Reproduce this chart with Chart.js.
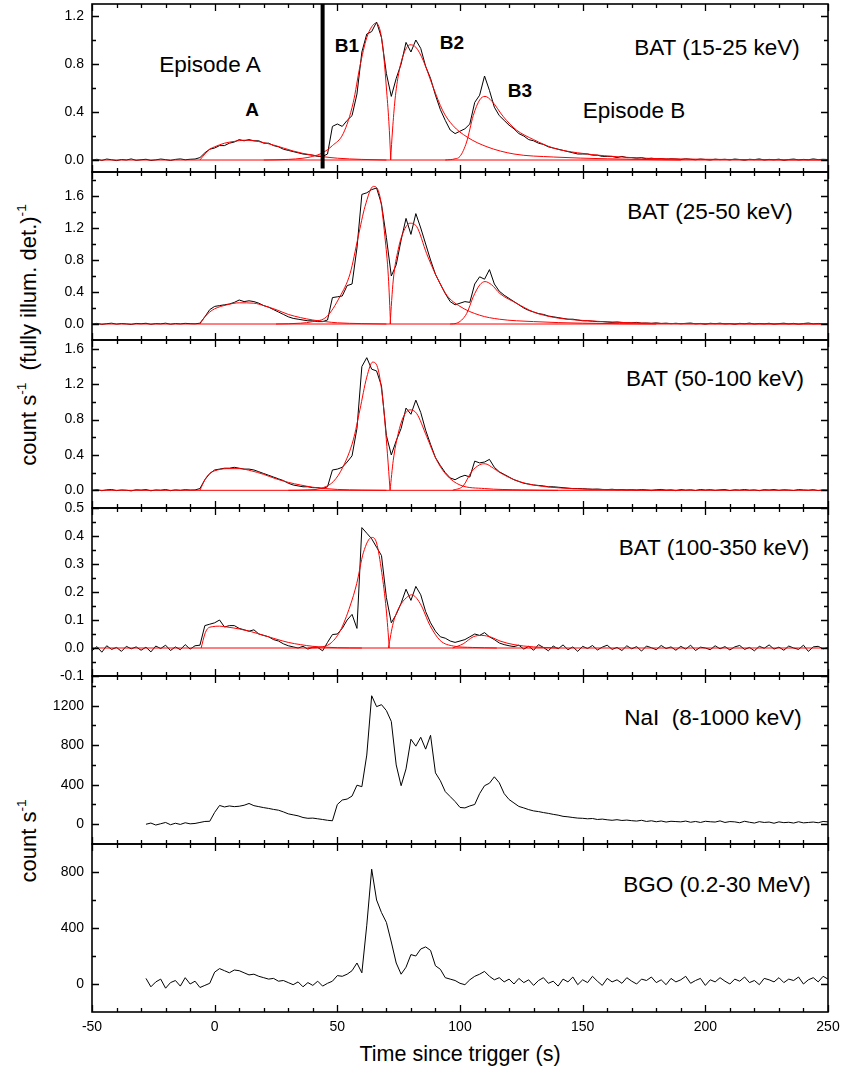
<!DOCTYPE html>
<html>
<head>
<meta charset="utf-8">
<script src="https://cdn.jsdelivr.net/npm/chart.js@4.4.0/dist/chart.umd.min.js"></script>
<style>
  html, body { margin: 0; padding: 0; background: #fff; }
  #wrap { position: relative; width: 841px; height: 1074px; overflow: hidden;
          font-family: "Liberation Sans", Arial, sans-serif; color: #000; }
  #wrap canvas { position: absolute; left: 0; }
  .lbl { position: absolute; white-space: pre; line-height: 1; font-size: 22.5px;
         transform: translate(-50%, -50%); }
  .bold { font-weight: bold; font-size: 19px; }
  .ytitle { position: absolute; white-space: pre; line-height: 1; font-size: 22px;
            transform: translate(-50%, -50%) rotate(-90deg); }
  sup { font-size: 0.62em; line-height: 0; vertical-align: 0.72em; }
</style>
</head>
<body>
<div id="wrap">
  <div class="lbl" style="left:210px; top:65px;">Episode A</div>
  <div class="lbl bold" style="left:252px; top:109px;">A</div>
  <div class="lbl bold" style="left:347px; top:45px;">B1</div>
  <div class="lbl bold" style="left:452px; top:42px;">B2</div>
  <div class="lbl bold" style="left:520px; top:90px;">B3</div>
  <div class="lbl" style="left:634px; top:111px;">Episode B</div>
  <div class="lbl" style="left:717px; top:48px;">BAT (15-25 keV)</div>
  <div class="lbl" style="left:710px; top:212px;">BAT (25-50 keV)</div>
  <div class="lbl" style="left:715px; top:379px;">BAT (50-100 keV)</div>
  <div class="lbl" style="left:714px; top:548px;">BAT (100-350 keV)</div>
  <div class="lbl" style="left:713px; top:718px;">NaI  (8-1000 keV)</div>
  <div class="lbl" style="left:717px; top:885px;">BGO (0.2-30 MeV)</div>
  <div class="ytitle" style="left:29px; top:335px;">count s<sup>-1</sup>  (fully illum. det.)<sup>-1</sup></div>
  <div class="ytitle" style="left:29px; top:841px;">count s<sup>-1</sup></div>
  <div class="lbl" style="left:460px; top:1055px; font-size:21.5px;">Time since trigger (s)</div>
</div>
<script>
// bin grid of the light curves (s)
const BIN = 2;
const BAT_START = -50;
const GBM_START = -28;

// x ticks (shared by every panel)
const xMajor = [-50, 0, 50, 100, 150, 200, 250];
const xMinor = [-40, -30, -20, -10, 10, 20, 30, 40, 60, 70, 80, 90, 110, 120, 130, 140,
  160, 170, 180, 190, 210, 220, 230, 240];

// y ticks per panel
const p1Major = [0, 0.4, 0.8, 1.2], p1Minor = [0.2, 0.6, 1.0];
const p2Major = [0, 0.4, 0.8, 1.2, 1.6], p2Minor = [0.2, 0.6, 1.0, 1.4, 1.8];
const p3Major = [0, 0.4, 0.8, 1.2, 1.6], p3Minor = [0.2, 0.6, 1.0, 1.4];
const p4Major = [-0.1, 0, 0.1, 0.2, 0.3, 0.4, 0.5], p4Minor = [-0.05, 0.05, 0.15, 0.25, 0.35, 0.45];
const p5Major = [0, 400, 800, 1200], p5Minor = [200, 600, 1000, 1400];
const p6Major = [0, 400, 800], p6Minor = [200, 600];

// BAT 15-25 keV, from -50 s every 2 s
const bat15 = [
  0.000, 0.006, -0.004, 0.008, 0.002, -0.005, 0.004, 0.000, 0.009, -0.003,
  0.002, 0.006, -0.004, 0.001, 0.008, 0.003, -0.004, 0.005, 0.009, 0.002,
  0.006, 0.008, 0.02, 0.06, 0.09, 0.10, 0.12, 0.12, 0.14, 0.15,
  0.17, 0.16, 0.17, 0.16, 0.16, 0.14, 0.14, 0.12, 0.11, 0.09,
  0.08, 0.07, 0.06, 0.05, 0.045, 0.04, 0.03, 0.03, 0.05, 0.28,
  0.30, 0.28, 0.33, 0.37, 0.55, 0.90, 1.05, 1.07, 1.15, 1.02,
  0.72, 0.53, 0.68, 0.80, 0.98, 0.90, 1.00, 0.93, 0.78, 0.68,
  0.54, 0.42, 0.33, 0.25, 0.22, 0.24, 0.26, 0.30, 0.48, 0.54,
  0.70, 0.58, 0.44, 0.37, 0.33, 0.29, 0.26, 0.22, 0.20, 0.17,
  0.16, 0.14, 0.13, 0.11, 0.10, 0.09, 0.08, 0.07, 0.06, 0.05,
  0.05, 0.05, 0.04, 0.04, 0.03, 0.03, 0.03, 0.02, 0.03, 0.02,
  0.02, 0.015, 0.02, 0.01, 0.015, 0.01, 0.012, 0.006, 0.01, 0.008,
  0.004, 0.01, 0.006, 0.002, 0.008, 0.004, 0.000, 0.007, 0.003, 0.006,
  0.001, 0.008, 0.004, -0.002, 0.006, 0.003, 0.009, 0.000, 0.005, 0.002,
  0.007, -0.003, 0.004, 0.008, 0.001, 0.005, 0.002, 0.009, 0.003, 0.006,
  0.004
];

// BAT 25-50 keV
const bat25 = [
  0.000, 0.008, -0.005, 0.004, 0.010, -0.002, 0.006, 0.001, -0.006, 0.007,
  0.003, 0.009, -0.004, 0.005, 0.002, 0.010, -0.003, 0.006, 0.001, 0.008,
  0.004, 0.002, 0.01, 0.09, 0.18, 0.22, 0.23, 0.24, 0.25, 0.27,
  0.30, 0.28, 0.29, 0.28, 0.26, 0.23, 0.21, 0.18, 0.15, 0.12,
  0.09, 0.07, 0.06, 0.05, 0.04, 0.04, 0.03, 0.03, 0.05, 0.33,
  0.34, 0.35, 0.48, 0.50, 0.95, 1.62, 1.64, 1.68, 1.70, 1.50,
  1.08, 0.60, 0.74, 1.05, 1.32, 1.12, 1.38, 1.20, 1.00, 0.80,
  0.62, 0.50, 0.38, 0.28, 0.24, 0.26, 0.28, 0.27, 0.50, 0.59,
  0.56, 0.68, 0.50, 0.41, 0.36, 0.32, 0.28, 0.24, 0.20, 0.17,
  0.15, 0.13, 0.12, 0.10, 0.09, 0.08, 0.07, 0.06, 0.06, 0.05,
  0.04, 0.04, 0.035, 0.03, 0.03, 0.025, 0.02, 0.025, 0.02, 0.015,
  0.015, 0.02, 0.01, 0.012, 0.008, 0.014, 0.006, 0.01, 0.004, 0.009,
  0.003, 0.008, 0.012, 0.002, 0.007, -0.003, 0.009, 0.004, 0.010, 0.001,
  0.006, -0.004, 0.008, 0.003, 0.011, 0.000, 0.007, 0.002, 0.009, -0.002,
  0.005, 0.010, 0.001, 0.008, -0.003, 0.006, 0.012, 0.002, 0.007, 0.004,
  0.006
];

// BAT 50-100 keV
const bat50 = [
  0.000, 0.007, -0.004, 0.005, 0.009, -0.003, 0.004, 0.001, -0.006, 0.006,
  0.002, 0.008, -0.005, 0.004, 0.001, 0.009, -0.004, 0.005, 0.000, 0.007,
  0.003, 0.004, 0.02, 0.12, 0.19, 0.23, 0.24, 0.25, 0.25, 0.26,
  0.25, 0.24, 0.24, 0.23, 0.21, 0.19, 0.17, 0.15, 0.13, 0.11,
  0.08, 0.06, 0.05, 0.04, 0.04, 0.03, 0.03, 0.02, 0.04, 0.23,
  0.24, 0.26, 0.32, 0.39, 0.70, 1.40, 1.50, 1.37, 1.35, 1.18,
  0.62, 0.40, 0.56, 0.70, 0.93, 0.86, 1.02, 0.88, 0.68, 0.52,
  0.37, 0.28, 0.20, 0.14, 0.12, 0.15, 0.17, 0.15, 0.33, 0.31,
  0.32, 0.35, 0.26, 0.21, 0.18, 0.15, 0.12, 0.10, 0.08, 0.07,
  0.06, 0.055, 0.05, 0.04, 0.04, 0.035, 0.03, 0.025, 0.02, 0.02,
  0.018, 0.015, 0.012, 0.014, 0.01, 0.008, 0.012, 0.006, 0.009, 0.004,
  0.007, 0.002, 0.009, 0.004, -0.003, 0.006, 0.010, 0.001, 0.005, -0.004,
  0.008, 0.002, 0.006, -0.002, 0.009, 0.003, 0.007, 0.000, 0.005, 0.008,
  -0.003, 0.006, 0.002, 0.009, 0.001, 0.005, -0.004, 0.007, 0.003, 0.008,
  0.000, 0.006, 0.003, -0.002, 0.008, 0.004, 0.001, 0.007, -0.003, 0.005,
  0.002
];

// BAT 100-350 keV
const bat100 = [
  -0.010, 0.005, -0.015, 0.008, -0.005, 0.002, -0.012, 0.006, -0.003, 0.004,
  -0.008, 0.003, -0.014, 0.007, -0.002, 0.010, -0.009, 0.004, -0.006, 0.012,
  -0.004, 0.008, 0.01, 0.08, 0.085, 0.09, 0.10, 0.075, 0.08, 0.08,
  0.07, 0.065, 0.06, 0.065, 0.05, 0.045, 0.04, 0.03, 0.025, 0.015,
  0.008, 0.004, 0.000, 0.006, -0.004, 0.003, 0.002, -0.010, 0.02, 0.048,
  0.05, 0.07, 0.10, 0.12, 0.07, 0.43, 0.41, 0.39, 0.36, 0.33,
  0.18, 0.09, 0.12, 0.16, 0.21, 0.17, 0.22, 0.19, 0.13, 0.09,
  0.06, 0.04, 0.035, 0.025, 0.02, 0.025, 0.03, 0.04, 0.05, 0.045,
  0.055, 0.04, 0.03, 0.018, 0.012, 0.008, 0.005, 0.010, -0.004, 0.006,
  -0.008, 0.012, 0.002, -0.010, 0.007, -0.003, 0.011, -0.006, 0.004, -0.012,
  0.006, -0.002, 0.009, -0.007, 0.003, 0.010, -0.005, 0.002, -0.009, 0.008,
  -0.003, 0.005, -0.011, 0.007, 0.001, -0.006, 0.009, -0.002, 0.004, -0.008,
  0.006, -0.004, 0.010, -0.009, 0.003, 0.000, -0.006, 0.008, -0.003, 0.005,
  -0.007, 0.004, 0.009, -0.005, 0.002, -0.010, 0.006, -0.001, 0.011, -0.004,
  0.003, -0.008, 0.007, 0.000, -0.005, 0.010, -0.012, 0.004, 0.006, -0.003,
  0.002
];

// GBM NaI 8-1000 keV, from -28 s every 2 s
const nai = [
  0, 12, -8, 5, 18, -5, 10, -2, 15, 4,
  8, 18, 28, 30, 120, 190, 175, 185, 178, 182,
  192, 210, 188, 178, 168, 160, 150, 142, 125, 105,
  95, 85, 68, 60, 62, 55, 48, 40, 35, 200,
  245, 255, 285, 395, 380, 700, 1300, 1190, 1210, 1150,
  1040, 600, 390, 560, 860, 790, 880, 760, 900, 520,
  440, 330, 280, 230, 170, 165, 185, 200, 310, 390,
  415, 480, 420, 310, 250, 215, 180, 165, 148, 135,
  128, 118, 110, 100, 92, 80, 75, 68, 62, 60,
  55, 58, 48, 52, 45, 40, 46, 38, 42, 36,
  32, 40, 28, 35, 25, 33, 22, 30, 27, 24,
  32, 20, 28, 18, 30, 25, 22, 34, 18, 27,
  24, 15, 30, 20, 12, 26, 18, 22, 10, 24,
  16, 20, 12, 25, 14, 18, 22, 15, 28, 24
];

// GBM BGO 0.2-30 MeV
const bgo = [
  40, -20, 15, 35, -30, 10, 25, -15, 45, 0,
  20, -25, -10, 5, 85, 110, 95, 80, 100, 95,
  80, 65, 70, 55, 45, 35, 40, 20, 25, 10,
  -5, 15, -20, 10, -10, 20, -15, 5, 20, 60,
  55, 70, 95, 150, 80, 420, 820, 600, 510, 440,
  300, 150, 70, 120, 210, 200, 250, 265, 240, 130,
  105, 45, 35, 25, 5, -5, 30, 55, 70, 90,
  55, 30, 45, 15, 35, 0, 40, 10, 30, -10,
  25, 45, 5, 20, -15, 35, 15, 50, -5, 30,
  10, 55, 20, -10, 40, 15, 30, 5, 45, 20,
  0, 35, 25, 50, 10, 30, -5, 40, 15, 30,
  55, 5, 25, 40, -10, 30, 15, 45, 20, 0,
  35, 20, 50, 10, 25, -5, 40, 30, 15, 45,
  10, 35, 25, 50, 0, 30, 45, 15, 55, 35
];

// pulse fits (red), time / value pairs
const zeroT = [-50, 250], zeroY = [0, 0];

const fit15At = [-6, -4, -2, 0, 4, 8, 12, 16, 20, 24, 28, 32, 36, 40, 44, 50, 60, 70];
const fit15Ay = [0, 0.05, 0.09, 0.11, 0.14, 0.155, 0.165, 0.16, 0.145, 0.125, 0.10, 0.075, 0.055, 0.04, 0.028, 0.015, 0.005, 0];
const fit15B1t = [20, 30, 36, 40, 44, 48, 52.4, 56.5, 59.2, 62, 64, 65.7, 67, 68, 69, 70, 71, 71.8];
const fit15B1y = [0, 0.005, 0.015, 0.03, 0.06, 0.12, 0.22, 0.48, 0.78, 1.02, 1.11, 1.14, 1.11, 1.02, 0.85, 0.60, 0.32, 0];
const fit15B2t = [71.7, 72.5, 73.5, 75, 77, 79.6, 82, 85, 89, 93, 97, 103, 111, 122, 138, 160, 190];
const fit15B2y = [0, 0.25, 0.50, 0.72, 0.88, 0.96, 0.94, 0.83, 0.61, 0.41, 0.29, 0.19, 0.11, 0.05, 0.025, 0.01, 0];
const fit15B3t = [94, 98, 100, 102.7, 105.4, 108, 110.2, 113, 117.7, 123, 130, 138, 148, 170, 200, 250];
const fit15B3y = [0, 0.01, 0.03, 0.15, 0.37, 0.50, 0.53, 0.49, 0.36, 0.25, 0.17, 0.10, 0.06, 0.02, 0.006, 0];

const fit25At = [-6, -4, -2, 0, 5, 10, 16, 20, 25, 30, 35, 40, 45, 50, 60, 70];
const fit25Ay = [0, 0.09, 0.15, 0.19, 0.24, 0.265, 0.26, 0.23, 0.18, 0.12, 0.08, 0.05, 0.03, 0.015, 0.005, 0];
const fit25B1t = [25, 35, 40, 45.6, 51, 55.2, 58.5, 61.3, 64.7, 67.4, 69.4, 70.8, 71.7];
const fit25B1y = [0, 0.01, 0.03, 0.09, 0.34, 0.63, 1.09, 1.47, 1.72, 1.59, 1.09, 0.59, 0];
const fit25B2t = [71.5, 72.8, 74.8, 76.9, 79.6, 82.3, 86.4, 90.5, 94.6, 100, 108, 116, 130, 150, 180];
const fit25B2y = [0, 0.55, 0.93, 1.15, 1.26, 1.22, 0.88, 0.59, 0.36, 0.22, 0.11, 0.06, 0.03, 0.01, 0];
const fit25B3t = [96, 98.6, 102.7, 105.4, 108.1, 110.2, 112.9, 116.3, 123, 130, 137, 143.5, 150, 165, 190, 250];
const fit25B3y = [0, 0.01, 0.13, 0.34, 0.49, 0.53, 0.49, 0.38, 0.26, 0.15, 0.09, 0.06, 0.045, 0.02, 0.005, 0];

const fit50At = [-6, -4, -2, 0, 5, 10, 15, 20, 25, 30, 35, 40, 45, 50, 60, 70];
const fit50Ay = [0, 0.12, 0.19, 0.22, 0.245, 0.245, 0.22, 0.18, 0.13, 0.09, 0.06, 0.035, 0.02, 0.01, 0.003, 0];
const fit50B1t = [30, 38, 43, 48.4, 52.4, 56.5, 59.2, 62, 64.4, 66.7, 68.7, 70.4, 71.5];
const fit50B1y = [0, 0.005, 0.02, 0.10, 0.27, 0.57, 0.91, 1.28, 1.45, 1.36, 0.98, 0.42, 0];
const fit50B2t = [71.5, 72.8, 74.8, 76.9, 79.6, 82.3, 86.4, 90.5, 94.6, 100, 110, 125, 140];
const fit50B2y = [0, 0.34, 0.64, 0.83, 0.91, 0.87, 0.61, 0.34, 0.17, 0.06, 0.02, 0.005, 0];
const fit50B3t = [97, 101.3, 104.7, 108.1, 110.2, 113.6, 116.3, 123, 130, 137, 145, 160, 190];
const fit50B3y = [0, 0.05, 0.21, 0.29, 0.30, 0.25, 0.20, 0.11, 0.06, 0.035, 0.02, 0.008, 0];

const fit100At = [-5.5, -4, -3, -1, 2, 5, 10, 15, 20, 25, 30, 35, 40, 45, 50, 60];
const fit100Ay = [0, 0.05, 0.068, 0.076, 0.078, 0.075, 0.068, 0.058, 0.045, 0.032, 0.02, 0.012, 0.006, 0.003, 0.001, 0];
const fit100B1t = [38, 43, 47, 51.1, 55.2, 57.9, 60.6, 64, 66, 68.1, 69.9, 71.2];
const fit100B1y = [0, 0.003, 0.015, 0.06, 0.15, 0.23, 0.34, 0.395, 0.375, 0.27, 0.14, 0];
const fit100B2t = [70.8, 72.8, 75.5, 78.2, 80.3, 83.7, 87.8, 91.9, 97.3, 105, 115];
const fit100B2y = [0, 0.09, 0.15, 0.18, 0.19, 0.16, 0.08, 0.027, 0.007, 0.002, 0];
const fit100B3t = [97, 101.3, 105.4, 108.8, 112.9, 116.3, 122, 130, 140];
const fit100B3y = [0, 0.015, 0.04, 0.045, 0.038, 0.025, 0.012, 0.004, 0];

// boundary between episode A and B (top panel)
const splitT = [44, 44], splitY = [1.3, -0.07];

const FONT = "'Liberation Sans', Arial, sans-serif";

function series(start, values) {
  return values.map((v, i) => ({ x: start + i * BIN, y: v }));
}
function pairs(ts, ys) {
  return ts.map((t, i) => ({ x: t, y: ys[i] }));
}
function blackLine(data) {
  return { data: data, borderColor: "#000", borderWidth: 1, order: 2 };
}
function redLine(data) {
  return { data: data, borderColor: "#ff0000", borderWidth: 1, cubicInterpolationMode: "monotone", order: 1 };
}

// frame with inward ticks on all four sides
const frameTicks = {
  id: "frameTicks",
  afterDatasetsDraw(chart, args, opts) {
    const { ctx, chartArea: a, scales } = chart;
    const xs = scales.x, ys = scales.y;
    ctx.save();
    ctx.strokeStyle = "#000";
    ctx.lineWidth = 1.3;
    ctx.beginPath();
    const xTick = (v, len) => {
      const p = Math.round(xs.getPixelForValue(v)) + 0.5;
      ctx.moveTo(p, a.top); ctx.lineTo(p, a.top + len);
      ctx.moveTo(p, a.bottom); ctx.lineTo(p, a.bottom - len);
    };
    const yTick = (v, len) => {
      const p = Math.round(ys.getPixelForValue(v)) + 0.5;
      ctx.moveTo(a.left, p); ctx.lineTo(a.left + len, p);
      ctx.moveTo(a.right, p); ctx.lineTo(a.right - len, p);
    };
    xMajor.forEach(v => xTick(v, 7));
    xMinor.forEach(v => xTick(v, 4));
    opts.major.forEach(v => yTick(v, 7));
    opts.minor.forEach(v => yTick(v, 4));
    ctx.stroke();
    ctx.lineWidth = 1.6;
    ctx.strokeRect(a.left, a.top, a.right - a.left, a.bottom - a.top);
    ctx.restore();
  }
};

const PANEL_H = 168;
const PAD = 12;
const wrap = document.getElementById("wrap");

function makePanel(top, yMin, yMax, major, minor, decimals, datasets, showX) {
  const canvas = document.createElement("canvas");
  const h = showX ? 1074 - top + PAD : PANEL_H + 2 * PAD;
  canvas.width = 841;
  canvas.height = h;
  canvas.style.top = (top - PAD) + "px";
  wrap.appendChild(canvas);

  new Chart(canvas, {
    type: "line",
    data: { datasets: datasets },
    options: {
      responsive: false,
      animation: false,
      events: [],
      layout: { padding: { top: PAD, bottom: showX ? 0 : PAD, left: 0, right: 13 } },
      elements: { point: { radius: 0 }, line: { tension: 0 } },
      plugins: {
        legend: { display: false },
        tooltip: { enabled: false },
        frameTicks: { major: major, minor: minor }
      },
      scales: {
        x: {
          type: "linear",
          min: -50,
          max: 250,
          display: showX,
          grid: { display: false, drawTicks: false },
          border: { display: false },
          afterBuildTicks: (s) => { s.ticks = xMajor.map(v => ({ value: v })); },
          afterFit: (s) => {
            s.height = showX ? 62 : 0;
            s.paddingLeft = 0;
            s.paddingRight = 0;
          },
          ticks: {
            color: "#000",
            font: { family: FONT, size: 14 },
            padding: 7,
            maxRotation: 0,
            autoSkip: false
          }
        },
        y: {
          type: "linear",
          min: yMin,
          max: yMax,
          grid: { display: false, drawTicks: false },
          border: { display: false },
          afterBuildTicks: (s) => { s.ticks = major.map(v => ({ value: v })); },
          afterFit: (s) => {
            s.width = 92;
            s.paddingTop = 0;
            s.paddingBottom = 0;
          },
          ticks: {
            color: "#000",
            font: { family: FONT, size: 14 },
            padding: 8,
            callback: (v) => Number(v).toFixed(decimals)
          }
        }
      }
    },
    plugins: [frameTicks]
  });
}

makePanel(4, -0.1, 1.3, p1Major, p1Minor, 1, [
  { data: pairs(splitT, splitY), borderColor: "#000", borderWidth: 4, order: 0 },
  redLine(pairs(zeroT, zeroY)),
  redLine(pairs(fit15At, fit15Ay)),
  redLine(pairs(fit15B1t, fit15B1y)),
  redLine(pairs(fit15B2t, fit15B2y)),
  redLine(pairs(fit15B3t, fit15B3y)),
  blackLine(series(BAT_START, bat15))
], false);

makePanel(172, -0.2, 1.9, p2Major, p2Minor, 1, [
  redLine(pairs(zeroT, zeroY)),
  redLine(pairs(fit25At, fit25Ay)),
  redLine(pairs(fit25B1t, fit25B1y)),
  redLine(pairs(fit25B2t, fit25B2y)),
  redLine(pairs(fit25B3t, fit25B3y)),
  blackLine(series(BAT_START, bat25))
], false);

makePanel(340, -0.2, 1.7, p3Major, p3Minor, 1, [
  redLine(pairs(zeroT, zeroY)),
  redLine(pairs(fit50At, fit50Ay)),
  redLine(pairs(fit50B1t, fit50B1y)),
  redLine(pairs(fit50B2t, fit50B2y)),
  redLine(pairs(fit50B3t, fit50B3y)),
  blackLine(series(BAT_START, bat50))
], false);

makePanel(508, -0.1, 0.5, p4Major, p4Minor, 1, [
  redLine(pairs(zeroT, zeroY)),
  redLine(pairs(fit100At, fit100Ay)),
  redLine(pairs(fit100B1t, fit100B1y)),
  redLine(pairs(fit100B2t, fit100B2y)),
  redLine(pairs(fit100B3t, fit100B3y)),
  blackLine(series(BAT_START, bat100))
], false);

makePanel(676, -200, 1500, p5Major, p5Minor, 0, [
  blackLine(series(GBM_START, nai))
], false);

makePanel(844, -200, 1000, p6Major, p6Minor, 0, [
  blackLine(series(GBM_START, bgo))
], true);
</script>
</body>
</html>
